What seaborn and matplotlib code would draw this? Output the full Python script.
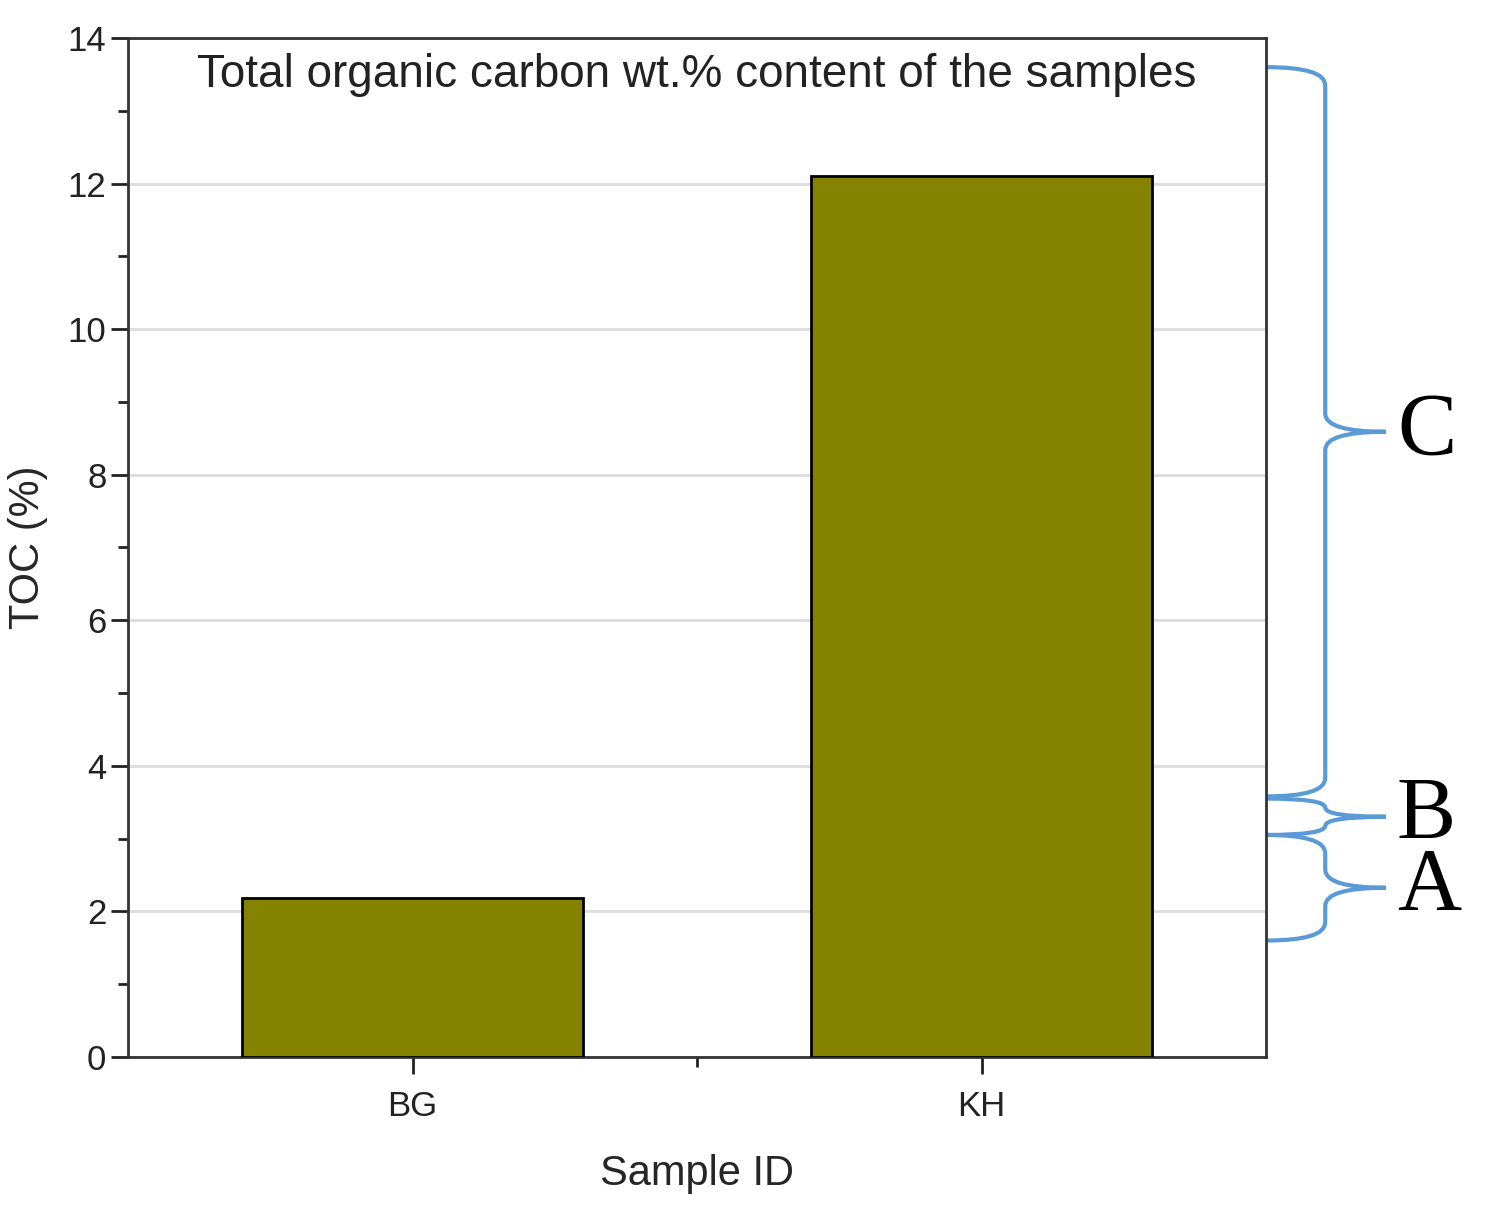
import matplotlib
matplotlib.use("Agg")
import matplotlib.pyplot as plt
import matplotlib.transforms as mtransforms
from matplotlib.path import Path
from matplotlib.patches import PathPatch
import seaborn as sns
import pandas as pd

samples = ["BG", "KH"]
toc = [2.18, 12.1]
# brace ranges on the TOC scale: (label, low, high)
brace_labels = ["A", "B", "C"]
brace_low = [1.6, 3.05, 3.58]
brace_high = [3.05, 3.55, 13.6]

sns.set_theme(style="white")
plt.rcParams['font.family'] = ['Arial', 'Liberation Sans', 'DejaVu Sans']

fig = plt.figure(figsize=(14.9, 12.11), dpi=100)
ax = fig.add_axes([0.0859, 0.1272, 0.7638, 0.8414])

df = pd.DataFrame({"sample": samples, "toc": toc})
sns.barplot(data=df, x="sample", y="toc", color="#858200", width=0.6,
            edgecolor="black", linewidth=2, saturation=1, ax=ax, zorder=3)

ax.set_xlim(-0.5, 1.5)
ax.set_ylim(0, 14)
ax.set_yticks(range(0, 15, 2))
ax.set_yticks(range(1, 14, 2), minor=True)
ax.set_xticks([0.5], minor=True)
ax.yaxis.grid(True, color="#dddddd", linewidth=2, zorder=0)
ax.set_axisbelow(True)
for s in ax.spines.values():
    s.set_color("#333333")
    s.set_linewidth(2)
ax.tick_params(axis="both", which="major", direction="out", length=12, width=2,
               labelsize=25, bottom=True, left=True, colors="#222222")
ax.tick_params(axis="x", which="major", pad=12)
ax.tick_params(axis="both", which="minor", direction="out", length=7, width=2,
               bottom=True, left=True, colors="#222222")
ax.set_xlabel("Sample ID", fontsize=30, labelpad=22)
ax.set_ylabel("TOC (%)", fontsize=30, labelpad=14)
ax.text(0.5, 0.985, "Total organic carbon wt.% content of the samples",
        transform=ax.transAxes, ha="center", va="top", fontsize=33, color="#222222")

trans = mtransforms.blended_transform_factory(ax.transAxes, ax.transData)
x0, x1, x2 = 1.0, 1.052, 1.105
for lab, lo, hi in zip(brace_labels, brace_low, brace_high):
    mid = (lo + hi) / 2
    d = min(0.25, (hi - lo) / 4)
    verts = [(x0, hi), (x1, hi), (x1, hi - d),
             (x1, mid + d),
             (x1, mid), (x2, mid),
             (x1, mid), (x1, mid - d),
             (x1, lo + d),
             (x1, lo), (x0, lo)]
    codes = [Path.MOVETO, Path.CURVE3, Path.CURVE3, Path.LINETO,
             Path.CURVE3, Path.CURVE3, Path.CURVE3, Path.CURVE3,
             Path.LINETO, Path.CURVE3, Path.CURVE3]
    ax.add_patch(PathPatch(Path(verts, codes), transform=trans, fill=False,
                           edgecolor="#5b9bd5", linewidth=3, clip_on=False))
    ax.text(1.115, mid, lab, transform=trans, ha="left", va="center",
            fontsize=64, family=["Liberation Serif", "DejaVu Serif"], color="black")

fig.savefig("out.png", dpi=100)
